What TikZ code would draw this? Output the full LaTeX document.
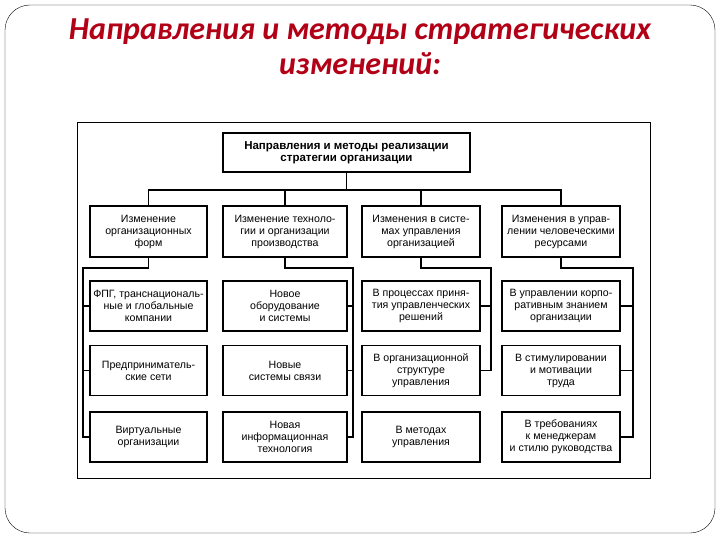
\documentclass[tikz,border=0pt]{standalone}
\usepackage{fontspec}
\setmainfont{Liberation Sans}
\newfontfamily\titlefont{Carlito}
\usepackage{tikz}

\definecolor{titlered}{RGB}{178,0,22}

\begin{document}
\begin{tikzpicture}[x=1pt,y=-1pt,
  box/.style={draw, line width=1.3pt, align=center, inner sep=1pt,
    font=\fontsize{10.6}{12}\selectfont},
  link/.style={line width=1.1pt}]

\useasboundingbox (0,0) rectangle (720,540);
\draw[rounded corners=25pt] (5,5) rectangle (715,533);

\node(title)[titlered, align=center, font=\titlefont\bfseries\itshape\fontsize{32}{35}\selectfont]
  at (360,47) {Направления и методы стратегических\\изменений:};

\draw[line width=0.8pt] (77,122) rectangle (650,478);

\node(top)[box, minimum width=247pt, minimum height=39pt, font=\bfseries\fontsize{11.5}{12}\selectfont]
  at (346.5,152.5) {Направления и методы реализации\\стратегии организации};

\node(o1)[box, minimum width=117pt, minimum height=51pt] at (148.5,231.5) {Изменение\\организационных\\форм};
\node(o2)[box, minimum width=124pt, minimum height=51pt] at (285,231.5) {Изменение техноло-\\гии и организации\\производства};
\node(o3)[box, minimum width=118pt, minimum height=51pt] at (421,231.5) {Изменения в систе-\\мах управления\\организацией};
\node(o4)[box, minimum width=118pt, minimum height=51pt] at (561,231.5) {Изменения в управ-\\лении человеческими\\ресурсами};

\node(f1)[box, minimum width=117pt, minimum height=50pt] at (148.5,306) {ФПГ, транснациональ-\\ные и глобальные\\компании};
\node(f2)[box, minimum width=117pt, minimum height=50pt] at (148.5,370.5) {Предприниматель-\\ские сети};
\node(f3)[box, minimum width=117pt, minimum height=50pt] at (148.5,437) {Виртуальные\\организации};

\node(t1)[box, minimum width=124pt, minimum height=50pt] at (285,306) {Новое\\оборудование\\и системы};
\node(t2)[box, minimum width=124pt, minimum height=50pt] at (285,370.5) {Новые\\системы связи};
\node(t3)[box, minimum width=124pt, minimum height=50pt] at (285,437) {Новая\\информационная\\технология};

\node(m1)[box, minimum width=118pt, minimum height=50pt] at (421,306) {В процессах приня-\\тия управленческих\\решений};
\node(m2)[box, minimum width=118pt, minimum height=50pt] at (421,370.5) {В организационной\\структуре\\управления};
\node(m3)[box, minimum width=118pt, minimum height=50pt] at (421,437) {В методах\\управления};

\node(h1)[box, minimum width=118pt, minimum height=50pt] at (561,306) {В управлении корпо-\\ративным знанием\\организации};
\node(h2)[box, minimum width=118pt, minimum height=50pt] at (561,370.5) {В стимулировании\\и мотивации\\труда};
\node(h3)[box, minimum width=118pt, minimum height=50pt] at (561,437) {В требованиях\\к менеджерам\\и стилю руководства};

% upper level
\coordinate(bus) at (346.5,190);
\draw[link] (top.south) -- (bus);
\draw[link] (o1.north) |- (bus) -| (o4.north);
\draw[link] (o2.north) -- (o2.north |- bus);
\draw[link] (o3.north) -- (o3.north |- bus);

% columns
\coordinate(s1) at (83,268);
\coordinate(s2) at (353,268);
\coordinate(s3) at (491,268);
\coordinate(s4) at (633,268);

\draw[link] (o1.south) |- (s1) -- (s1 |- f3.west) -- (f3.west);
\draw[link] (s1 |- f1.west) -- (f1.west);
\draw[link] (s1 |- f2.west) -- (f2.west);

\draw[link] (o2.south) |- (s2) -- (s2 |- t3.east) -- (t3.east);
\draw[link] (s2 |- t1.east) -- (t1.east);
\draw[link] (s2 |- t2.east) -- (t2.east);

\draw[link] (o3.south) |- (s3) -- (s3 |- m2.east) -- (m2.east);
\draw[link] (s3 |- m1.east) -- (m1.east);

\draw[link] (o4.south) |- (s4) -- (s4 |- h3.east) -- (h3.east);
\draw[link] (s4 |- h1.east) -- (h1.east);
\draw[link] (s4 |- h2.east) -- (h2.east);

\end{tikzpicture}
\end{document}
